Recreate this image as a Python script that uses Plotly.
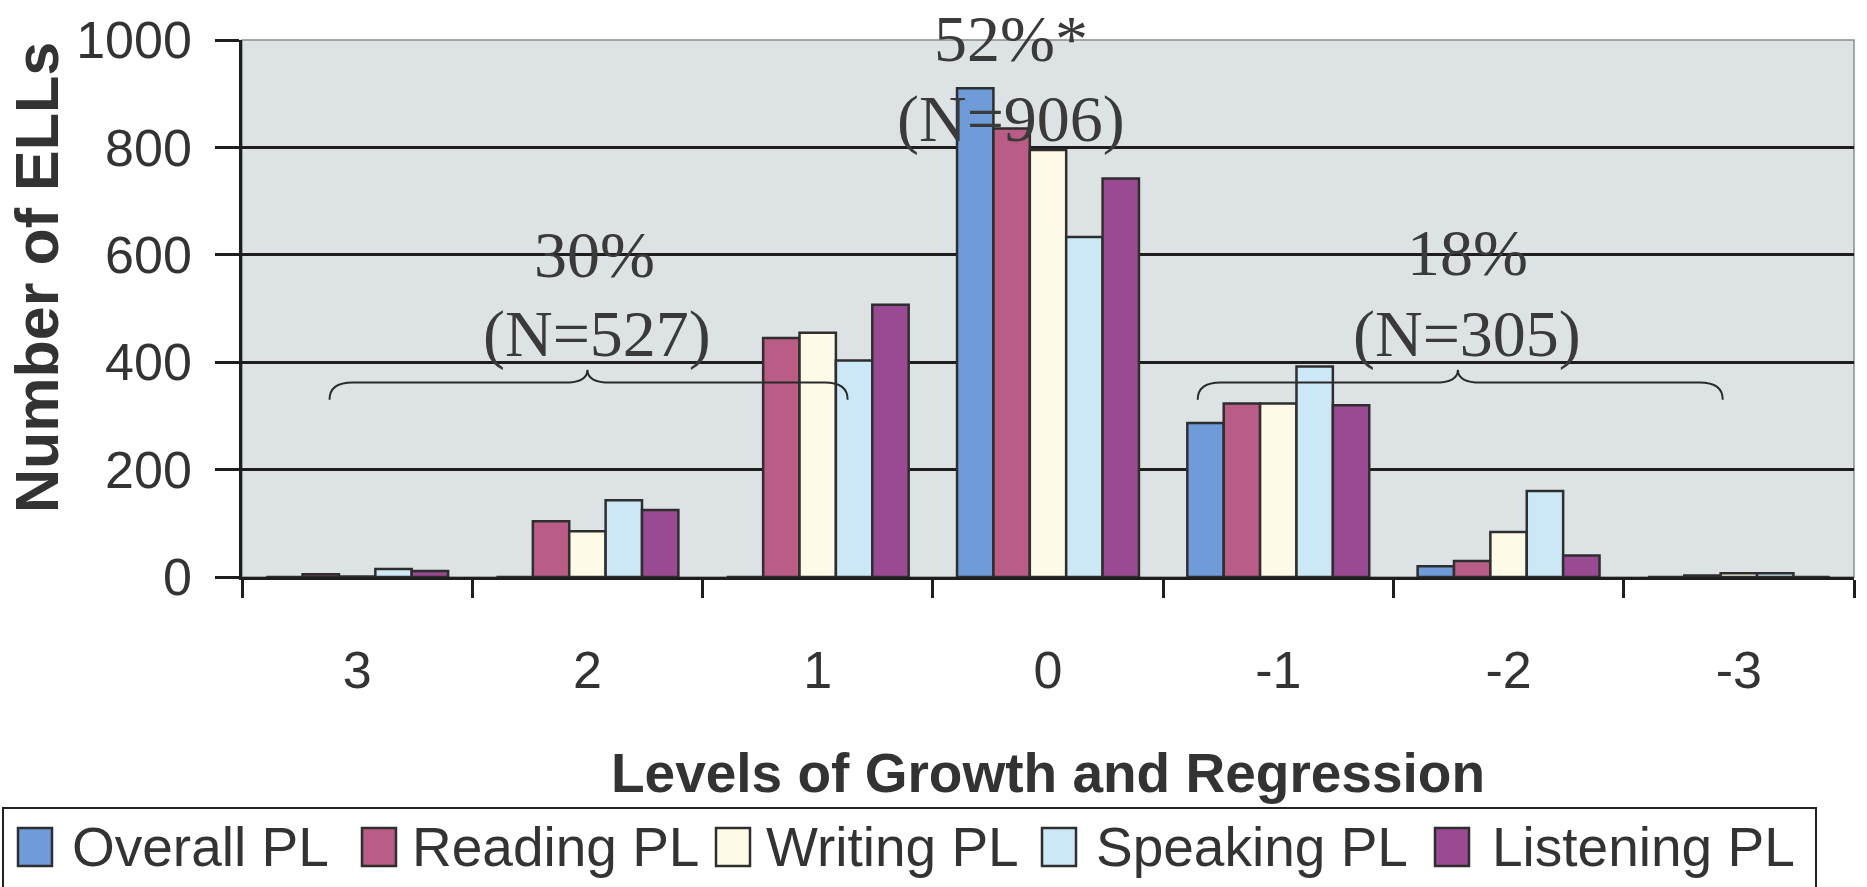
import plotly.graph_objects as go

categories = ["3", "2", "1", "0", "-1", "-2", "-3"]
series_names = ["Overall PL", "Reading PL", "Writing PL", "Speaking PL", "Listening PL"]
overall = [0, 0, 0, 910, 287, 20, 0]
reading = [5, 104, 445, 835, 323, 30, 3]
writing = [1, 85, 455, 795, 323, 84, 7]
speaking = [15, 143, 403, 633, 392, 160, 7]
listening = [11, 125, 507, 742, 320, 40, 0]
series_values = [overall, reading, writing, speaking, listening]
colors = ["#6f9bd9", "#b95c86", "#fdfbe7", "#cce8f6", "#9a4a92"]

y_ticks = [0, 200, 400, 600, 800, 1000]
y_max = 1000

# group annotations: (text, x category index, y value)
group_labels = [
    ("52%*", 2.84, 1002), ("(N=906)", 2.84, 852),
    ("30%", 1.03, 601), ("(N=527)", 1.04, 452),
    ("18%", 4.82, 605), ("(N=305)", 4.82, 452),
]
# braces: (x_start, x_end, x_tip) in category index units
braces = [(-0.12, 2.13, 1.0), (3.65, 5.93, 4.78)]

W, H = 1867, 887
L, R, T, B = 242, 13, 40, 310
PW = W - L - R
PH = H - T - B

def px2paper_x(px):
    return (px - L) / PW

def py2paper_y(py):
    return (H - B - py) / PH

fig = go.Figure()
for name, vals, col in zip(series_names, series_values, colors):
    fig.add_trace(go.Bar(
        x=categories, y=vals, name=name,
        marker=dict(color=col, line=dict(color="#2e2e2e", width=2.5)),
        showlegend=False,
    ))

shapes = []
# plot area border
shapes.append(dict(type="rect", xref="paper", yref="paper", x0=0, x1=1, y0=0, y1=1,
                   line=dict(color="#8a8a8a", width=1.5), layer="below"))

def brace_path(x0, x1, xm, yl=362, yt=386, ye=330, d=0.1):
    return (f"M{x0},{ye} Q{x0},{yl} {x0+d},{yl} L{xm-d},{yl} "
            f"Q{xm},{yl} {xm},{yt} Q{xm},{yl} {xm+d},{yl} "
            f"L{x1-d},{yl} Q{x1},{yl} {x1},{ye}")

for x0, x1, xm in braces:
    shapes.append(dict(type="path", xref="x", yref="y", path=brace_path(x0, x1, xm),
                       line=dict(color="#2a2a2a", width=2)))

annotations = []
for txt, xi, yv in group_labels:
    annotations.append(dict(text=txt, x=xi, y=yv / y_max, xref="x", yref="paper", showarrow=False,
                            xanchor="center", yanchor="middle",
                            font=dict(family="Liberation Serif, Times New Roman, serif",
                                      size=66, color="#3a3a3a")))

# y axis title (placed as rotated text, offset upward as in the original)
annotations.append(dict(text="<b>Number of ELLs</b>", xref="paper", yref="paper",
                        x=px2paper_x(37), y=py2paper_y(278), textangle=-90,
                        xanchor="center", yanchor="middle", showarrow=False,
                        font=dict(family="Liberation Sans, Arial, sans-serif", size=61,
                                  color="#333333")))

# legend (drawn manually to match the large swatches)
legend_sq_x = [18, 362, 716, 1042, 1435]
legend_txt_x = [70, 410, 764, 1094, 1490]
leg_cy = 847
shapes.append(dict(type="rect", xref="paper", yref="paper",
                   x0=px2paper_x(3), x1=px2paper_x(1816),
                   y0=py2paper_y(900), y1=py2paper_y(808),
                   line=dict(color="#222222", width=2), fillcolor="white", layer="below"))
for name, col, sx, tx in zip(series_names, colors, legend_sq_x, legend_txt_x):
    shapes.append(dict(type="rect", xref="paper", yref="paper",
                       x0=px2paper_x(sx), x1=px2paper_x(sx + 34),
                       y0=py2paper_y(leg_cy + 19), y1=py2paper_y(leg_cy - 19),
                       line=dict(color="#2e2e2e", width=2.5), fillcolor=col))
    annotations.append(dict(text=name, xref="paper", yref="paper",
                            x=px2paper_x(tx), y=py2paper_y(leg_cy),
                            xanchor="left", yanchor="middle", showarrow=False,
                            font=dict(family="Liberation Sans, Arial, sans-serif",
                                      size=55, color="#333333")))

fig.update_layout(
    width=W, height=H,
    margin=dict(l=L, r=R, t=T, b=B, autoexpand=False),
    paper_bgcolor="white",
    plot_bgcolor="#dde2e5",
    barmode="group", bargap=0.21, bargroupgap=0,
    shapes=shapes, annotations=annotations,
    font=dict(family="Liberation Sans, Arial, sans-serif", color="#333333"),
    xaxis=dict(
        type="category", categoryorder="array", categoryarray=categories,
        showgrid=False, showline=True, linecolor="#1e1e1e", linewidth=2.5,
        ticks="outside", tickson="boundaries", ticklen=18, tickwidth=2.5, tickcolor="#1e1e1e",
        tickfont=dict(size=52, color="#333333"), ticklabelstandoff=46,
        title=dict(text="<b>Levels of Growth and Regression</b>",
                   font=dict(size=55, color="#333333"), standoff=56),
        zeroline=False,
    ),
    yaxis=dict(
        range=[0, y_max], tickvals=y_ticks, ticktext=[str(v) for v in y_ticks],
        showgrid=True, gridcolor="#1e1e1e", gridwidth=2.5,
        showline=True, linecolor="#1e1e1e", linewidth=2.5,
        ticks="outside", ticklen=24, tickwidth=2.5, tickcolor="#1e1e1e",
        tickfont=dict(size=52, color="#333333"), ticklabelstandoff=13,
        zeroline=False,
    ),
)

fig.write_html("out.html", config={"displayModeBar": False},
               post_script="document.body.style.margin='0';document.body.style.overflow='hidden';")
